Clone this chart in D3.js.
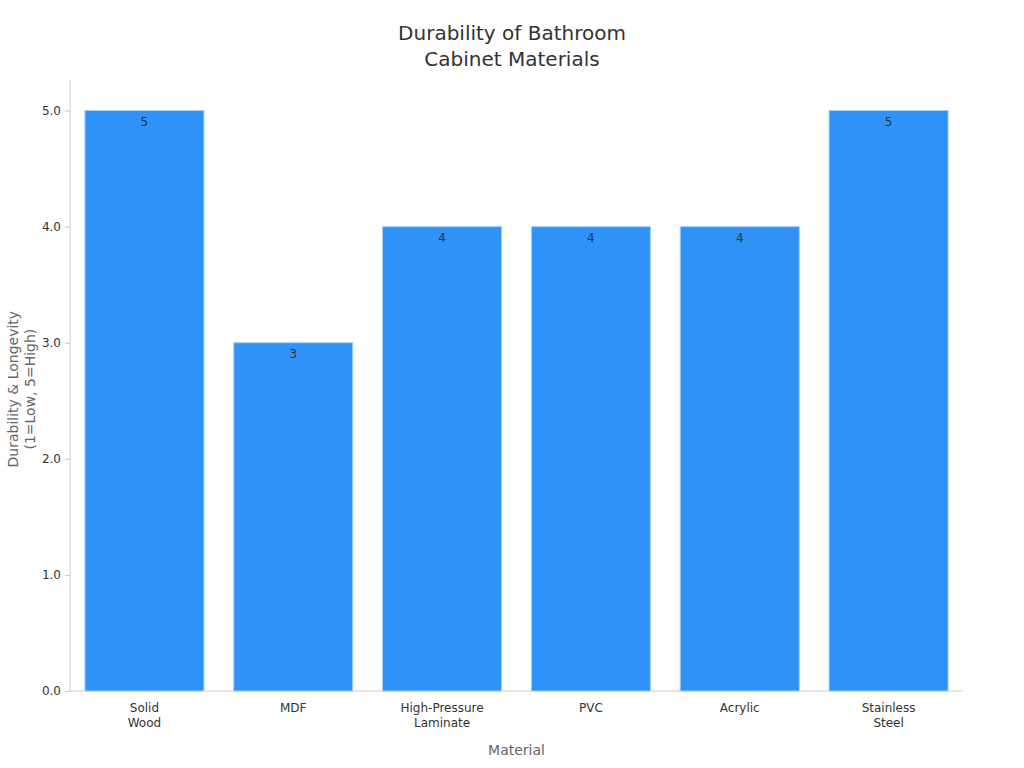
<!DOCTYPE html>
<html><head><meta charset="utf-8">
<script src="https://cdn.jsdelivr.net/npm/d3@7"></script>
<style>body{margin:0;background:#fff;font-family:"DejaVu Sans",sans-serif;}</style>
</head><body><svg id="chart" width="1024" height="768"></svg>
<script>
const categories = [["Solid", "Wood"], ["MDF"], ["High-Pressure", "Laminate"], ["PVC"], ["Acrylic"], ["Stainless", "Steel"]];
const values = [5, 3, 4, 4, 4, 5];
const yTicks = [0, 1, 2, 3, 4, 5];

const svg = d3.select("#chart");
const margin = {left: 70, right: 61, top: 80, bottom: 77};
const width = 1024 - margin.left - margin.right;
const height = 768 - margin.top - margin.bottom;
const g = svg.append("g").attr("transform", `translate(${margin.left},${margin.top})`);

const x = d3.scaleBand().domain(d3.range(categories.length)).range([0, width]).paddingInner(0.2).paddingOuter(0.1);
const y = d3.scaleLinear().domain([0, 5.263]).range([height, 0]);

// title
svg.append("text").attr("x", 512).attr("y", 40).attr("text-anchor", "middle")
  .attr("font-size", 20).attr("fill", "#333").text("Durability of Bathroom");
svg.append("text").attr("x", 512).attr("y", 66).attr("text-anchor", "middle")
  .attr("font-size", 20).attr("fill", "#333").text("Cabinet Materials");

// axes
const yAxis = g.append("g").call(d3.axisLeft(y).tickValues(yTicks).tickSize(5).tickPadding(4));
yAxis.selectAll("text").attr("font-size", 12).attr("fill", "#333").attr("font-family", "DejaVu Sans");
yAxis.selectAll("line,path").attr("stroke", "#ccc");
yAxis.select("path").attr("d", `M0,0V${height}`);

const xAxis = g.append("g").attr("transform", `translate(0,${height})`)
  .call(d3.axisBottom(x).tickSize(0).tickFormat(""));
xAxis.select("path").attr("stroke", "#ccc").attr("d", `M0,0H${width}`);
xAxis.selectAll(".tick").each(function(d) {
  const t = d3.select(this).append("text").attr("fill", "#333").attr("font-size", 12)
    .attr("text-anchor", "middle").attr("font-family", "DejaVu Sans");
  categories[d].forEach((line, i) => t.append("tspan").attr("x", 0).attr("y", 21 + i * 15).text(line));
});

// bars
g.selectAll("rect.bar").data(values).join("rect").attr("class", "bar")
  .attr("x", (d, i) => x(i)).attr("width", x.bandwidth())
  .attr("y", d => y(d)).attr("height", d => height - y(d))
  .attr("fill", "#2f92f7").attr("stroke", "#a9cff8").attr("stroke-width", 1);

g.selectAll("text.val").data(values).join("text").attr("class", "val")
  .attr("x", (d, i) => x(i) + x.bandwidth() / 2).attr("y", d => y(d) + 15)
  .attr("text-anchor", "middle").attr("font-size", 12).attr("fill", "#333").text(d => d);

// axis labels
svg.append("text").attr("x", margin.left + width / 2).attr("y", 755).attr("text-anchor", "middle")
  .attr("font-size", 14).attr("fill", "#666").text("Material");
const yl = svg.append("text").attr("transform", `translate(18,${margin.top + y(2.6)}) rotate(-90)`)
  .attr("text-anchor", "middle").attr("font-size", 14).attr("fill", "#666");
yl.append("tspan").attr("x", 0).attr("y", 0).text("Durability & Longevity");
yl.append("tspan").attr("x", 0).attr("y", 17).text("(1=Low, 5=High)");
</script></body></html>
